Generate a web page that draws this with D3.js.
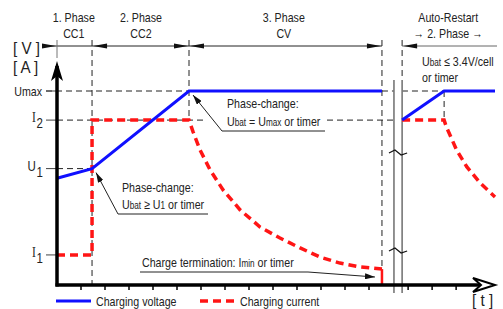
<!DOCTYPE html>
<html>
<head>
<meta charset="utf-8">
<script src="https://cdn.jsdelivr.net/npm/d3@7"></script>
<style>
body { margin: 0; background: #fff; }
svg { display: block; }
</style>
</head>
<body>
<div id="chart"></div>
<script>
// data (time in tick units, value in arbitrary units where Umax = 10)
var xTicks = [1, 2, 3, 4, 5, 6, 7, 8, 9, 10, 11, 12, 13, 14.63, 15.63, 16.63];
var levelNames = ["Umax", "I2", "U1", "I1"];
var levelValues = [10, 8.5, 6, 1.55];
var phaseTitles = ["1. Phase", "2. Phase", "3. Phase", "Auto-Restart"];
var phaseSubs = ["CC1", "CC2", "CV", "\u2192 2. Phase \u2192"];
var phaseCenters = [0.7, 3.5, 9.45, 16.3];

var voltageMain = [[0, 5.5], [1.46, 6], [5.5, 10], [13.54, 10]];
var voltageRestart = [[14.38, 8.5], [16.13, 10], [18.25, 10]];
var currentMain = [[0, 1.55], [1.46, 1.55], [1.46, 8.5], [5.5, 8.5], [5.67, 7.89], [5.96, 6.96],
  [6.38, 5.93], [6.92, 4.9], [7.63, 3.87], [8.46, 2.99], [9.29, 2.42], [10.13, 1.91],
  [10.96, 1.44], [11.79, 1.13], [12.63, 0.93], [13.54, 0.82]];
var currentDrop = [[13.54, 0.82], [13.54, 0]];
var currentRestart = [[14.38, 8.5], [16.13, 8.5], [16.22, 8.16], [16.65, 6.96], [17.07, 6.1],
  [17.63, 5.26], [18.25, 4.54]];

var svgWidth = 503, svgHeight = 309;
var FONT = "'Liberation Sans',Arial,sans-serif";
var SQUEEZE = 0.82; // narrow look
var BLUE = "#1010ff", RED = "#ff1515", INK = "#222";

var svg = d3.select("#chart").append("svg")
  .attr("width", svgWidth)
  .attr("height", svgHeight)
  .style("font-family", FONT);

var x = d3.scaleLinear().domain([0, 18.25]).range([57, 495]);
var y = d3.scaleLinear().domain([0, 10]).range([285, 91]);
var line = d3.line().x(d => x(d[0])).y(d => y(d[1]));

// condensed text helper
function label(px, py, size, anchor, sx) {
  return svg.append("text")
    .attr("transform", "translate(" + px + "," + py + ") scale(" + (sx || SQUEEZE) + ",1)")
    .attr("font-size", size)
    .attr("fill", INK)
    .attr("text-anchor", anchor || "start");
}

// guides (dashed)
function dashed(x1, y1, x2, y2) {
  svg.append("line")
    .attr("x1", x1).attr("y1", y1).attr("x2", x2).attr("y2", y2)
    .attr("stroke", "#222").attr("stroke-width", 1)
    .attr("stroke-dasharray", "6,4");
}
dashed(x(0) - 11, y(10), x(5.5), y(10));
dashed(x(13.54), y(10), x(16.13), y(10));
dashed(x(0), y(8.5), x(6.17), y(8.5));
dashed(x(11.25), y(8.5), x(14.38), y(8.5));
dashed(x(0), y(6), x(1.46), y(6));
dashed(x(1.46), 40, x(1.46), y(0));
dashed(x(5.5), 40, x(5.5), y(8.5));
dashed(x(13.54), 40, x(13.54), y(0));
dashed(x(14.38), 40, x(14.38), 80);
dashed(x(16.13), y(10), x(16.13), y(8.5));

// y level ticks
levelValues.forEach(function(v) {
  svg.append("line")
    .attr("x1", x(0) - 11).attr("x2", x(0)).attr("y1", y(v)).attr("y2", y(v))
    .attr("stroke", "#444").attr("stroke-width", 1);
});

// level labels
label(42, y(levelValues[0]) + 5, 13, "end").text(levelNames[0]);
function subLabel(v, main, sub, serif) {
  var t = label(43, y(v) + 2, 14, "end");
  t.append("tspan").attr("font-family", serif ? "'Liberation Serif',serif" : FONT).text(main);
  t.append("tspan").attr("dy", 6).attr("dx", 1).text(sub);
}
subLabel(levelValues[1], "I", levelNames[1].slice(1), true);
subLabel(levelValues[2], "U", levelNames[2].slice(1), false);
subLabel(levelValues[3], "I", levelNames[3].slice(1), true);

// break marks
svg.append("rect").attr("x", x(14.04)).attr("y", 80).attr("width", x(14.38) - x(14.04)).attr("height", 213).attr("fill", "#fff");
[14.04, 14.38].forEach(function(t) {
  svg.append("line").attr("x1", x(t)).attr("x2", x(t)).attr("y1", 80).attr("y2", 293)
    .attr("stroke", "#777").attr("stroke-width", 1.6);
});
[152, 250].forEach(function(yy) {
  svg.append("path")
    .attr("d", "M" + (x(14.04) - 5) + "," + (yy + 1) + " L" + (x(14.04) + 1) + "," + (yy - 2) +
      " L" + (x(14.38) - 1) + "," + (yy + 3) + " L" + (x(14.38) + 5) + "," + (yy + 1))
    .attr("fill", "none").attr("stroke", "#111").attr("stroke-width", 1.2);
});

// header dimension line
svg.append("line").attr("x1", 45).attr("x2", x(13.54)).attr("y1", 46).attr("y2", 46).attr("stroke", "#222");
svg.append("line").attr("x1", x(14.38)).attr("x2", 497).attr("y1", 46).attr("y2", 46).attr("stroke", "#666");
svg.append("line").attr("x1", x(0)).attr("x2", x(0)).attr("y1", 40).attr("y2", 58).attr("stroke", "#777");
function headArrow(px, dir) {
  svg.append("path")
    .attr("d", "M" + px + ",46 L" + (px - dir * 14) + ",43.5 L" + (px - dir * 14) + ",48.5 Z")
    .attr("fill", "#111");
}
headArrow(x(0) - 1, 1);
headArrow(x(1.46) + 1, -1);
headArrow(x(5.5) - 1, 1);
headArrow(x(5.5) + 1, -1);
headArrow(x(13.54) - 1, 1);
headArrow(x(14.38) + 1, -1);

phaseTitles.forEach(function(p, i) {
  label(x(phaseCenters[i]), 22, 13, "middle").text(p);
  label(x(phaseCenters[i]), 38, 13, "middle").text(phaseSubs[i]);
});

// units
label(13, 54, 16, "start", 0.95).text("[ V ]");
label(13, 73, 16, "start", 0.95).text("[ A ]");
label(472, 306, 16, "start", 0.95).text("[ t ]");

// restart condition
var rc = label(422, 66, 13);
rc.append("tspan").text("U");
rc.append("tspan").attr("font-size", 10).text("bat");
rc.append("tspan").text(" \u2264  3.4V/cell");
label(422, 82, 13).text("or timer");

// series
svg.append("path").datum(currentMain).attr("d", line)
  .attr("fill", "none").attr("stroke", RED).attr("stroke-width", 3.5).attr("stroke-dasharray", "8,5");
svg.append("path").datum(currentRestart).attr("d", line)
  .attr("fill", "none").attr("stroke", RED).attr("stroke-width", 3.5).attr("stroke-dasharray", "8,5");
svg.append("path").datum(currentDrop).attr("d", line)
  .attr("fill", "none").attr("stroke", RED).attr("stroke-width", 2.5);
svg.append("path").datum(voltageMain).attr("d", line)
  .attr("fill", "none").attr("stroke", BLUE).attr("stroke-width", 3);
svg.append("path").datum(voltageRestart).attr("d", line)
  .attr("fill", "none").attr("stroke", BLUE).attr("stroke-width", 3);

// axes
svg.append("line").attr("x1", x(0)).attr("x2", x(0)).attr("y1", 66).attr("y2", y(0) + 1.5)
  .attr("stroke", "#000").attr("stroke-width", 3.5);
svg.append("path").attr("d", "M57,61 L63,81 L57,76 L51,81 Z").attr("fill", "#000");
svg.append("line").attr("x1", x(0) - 1.5).attr("x2", 488).attr("y1", y(0)).attr("y2", y(0))
  .attr("stroke", "#000").attr("stroke-width", 3.5);
svg.append("path").attr("d", "M473,278 L495,285 L473,292 L481,285 Z")
  .attr("fill", "#fff").attr("stroke", "#000").attr("stroke-width", 2).attr("stroke-linejoin", "miter");
svg.append("g").selectAll("line").data(xTicks).enter().append("line")
  .attr("x1", d => x(d)).attr("x2", d => x(d)).attr("y1", y(0)).attr("y2", y(0) + 5)
  .attr("stroke", "#000").attr("stroke-width", 1.5);

// annotations
svg.append("defs").append("marker")
  .attr("id", "tip").attr("viewBox", "0 0 10 6").attr("refX", 10).attr("refY", 3)
  .attr("markerWidth", 10).attr("markerHeight", 6).attr("orient", "auto").attr("markerUnits", "userSpaceOnUse")
  .append("path").attr("d", "M0,0 L10,3 L0,6 Z").attr("fill", "#111");

function annot(tx, ty1, ty2, parts, ux2, pts) {
  label(tx, ty1, 13).text("Phase-change:");
  var t = label(tx, ty2, 13);
  parts.forEach(function(s) {
    var ts = t.append("tspan").text(s[0]);
    if (s[1]) ts.attr("font-size", 10);
  });
  svg.append("path").attr("d", d3.line()(pts)).attr("fill", "none")
    .attr("stroke", "#222").attr("stroke-width", 1).attr("marker-end", "url(#tip)");
  svg.append("line").attr("x1", pts[0][0]).attr("x2", ux2).attr("y1", pts[0][1]).attr("y2", pts[0][1])
    .attr("stroke", "#222").attr("stroke-width", 1);
}
annot(227, 108, 126, [["U"], ["bat", true], [" = U"], ["max", true], [" or timer"]], 325,
  [[222, 131], [x(5.5) + 4, y(10) + 4]]);
annot(122, 192, 209, [["U"], ["bat", true], [" \u2265 U"], ["1", true], [" or timer"]], 208,
  [[118, 214], [x(1.46) + 4, y(6) + 4]]);

var term = label(142, 267, 13);
term.append("tspan").text("Charge termination: I");
term.append("tspan").attr("font-size", 10).text("min");
term.append("tspan").text(" or timer");
svg.append("path").attr("d", d3.line()([[140, 272], [308, 272], [x(13.54) - 7, 277]]))
  .attr("fill", "none").attr("stroke", "#222").attr("stroke-width", 1).attr("marker-end", "url(#tip)");

// legend
svg.append("line").attr("x1", 56).attr("x2", 91).attr("y1", 301).attr("y2", 301)
  .attr("stroke", BLUE).attr("stroke-width", 3);
label(96, 306, 13).text("Charging voltage");
svg.append("line").attr("x1", 200).attr("x2", 235).attr("y1", 301).attr("y2", 301)
  .attr("stroke", RED).attr("stroke-width", 3.5).attr("stroke-dasharray", "8,5");
label(240, 306, 13).text("Charging current");
</script>
</body>
</html>
